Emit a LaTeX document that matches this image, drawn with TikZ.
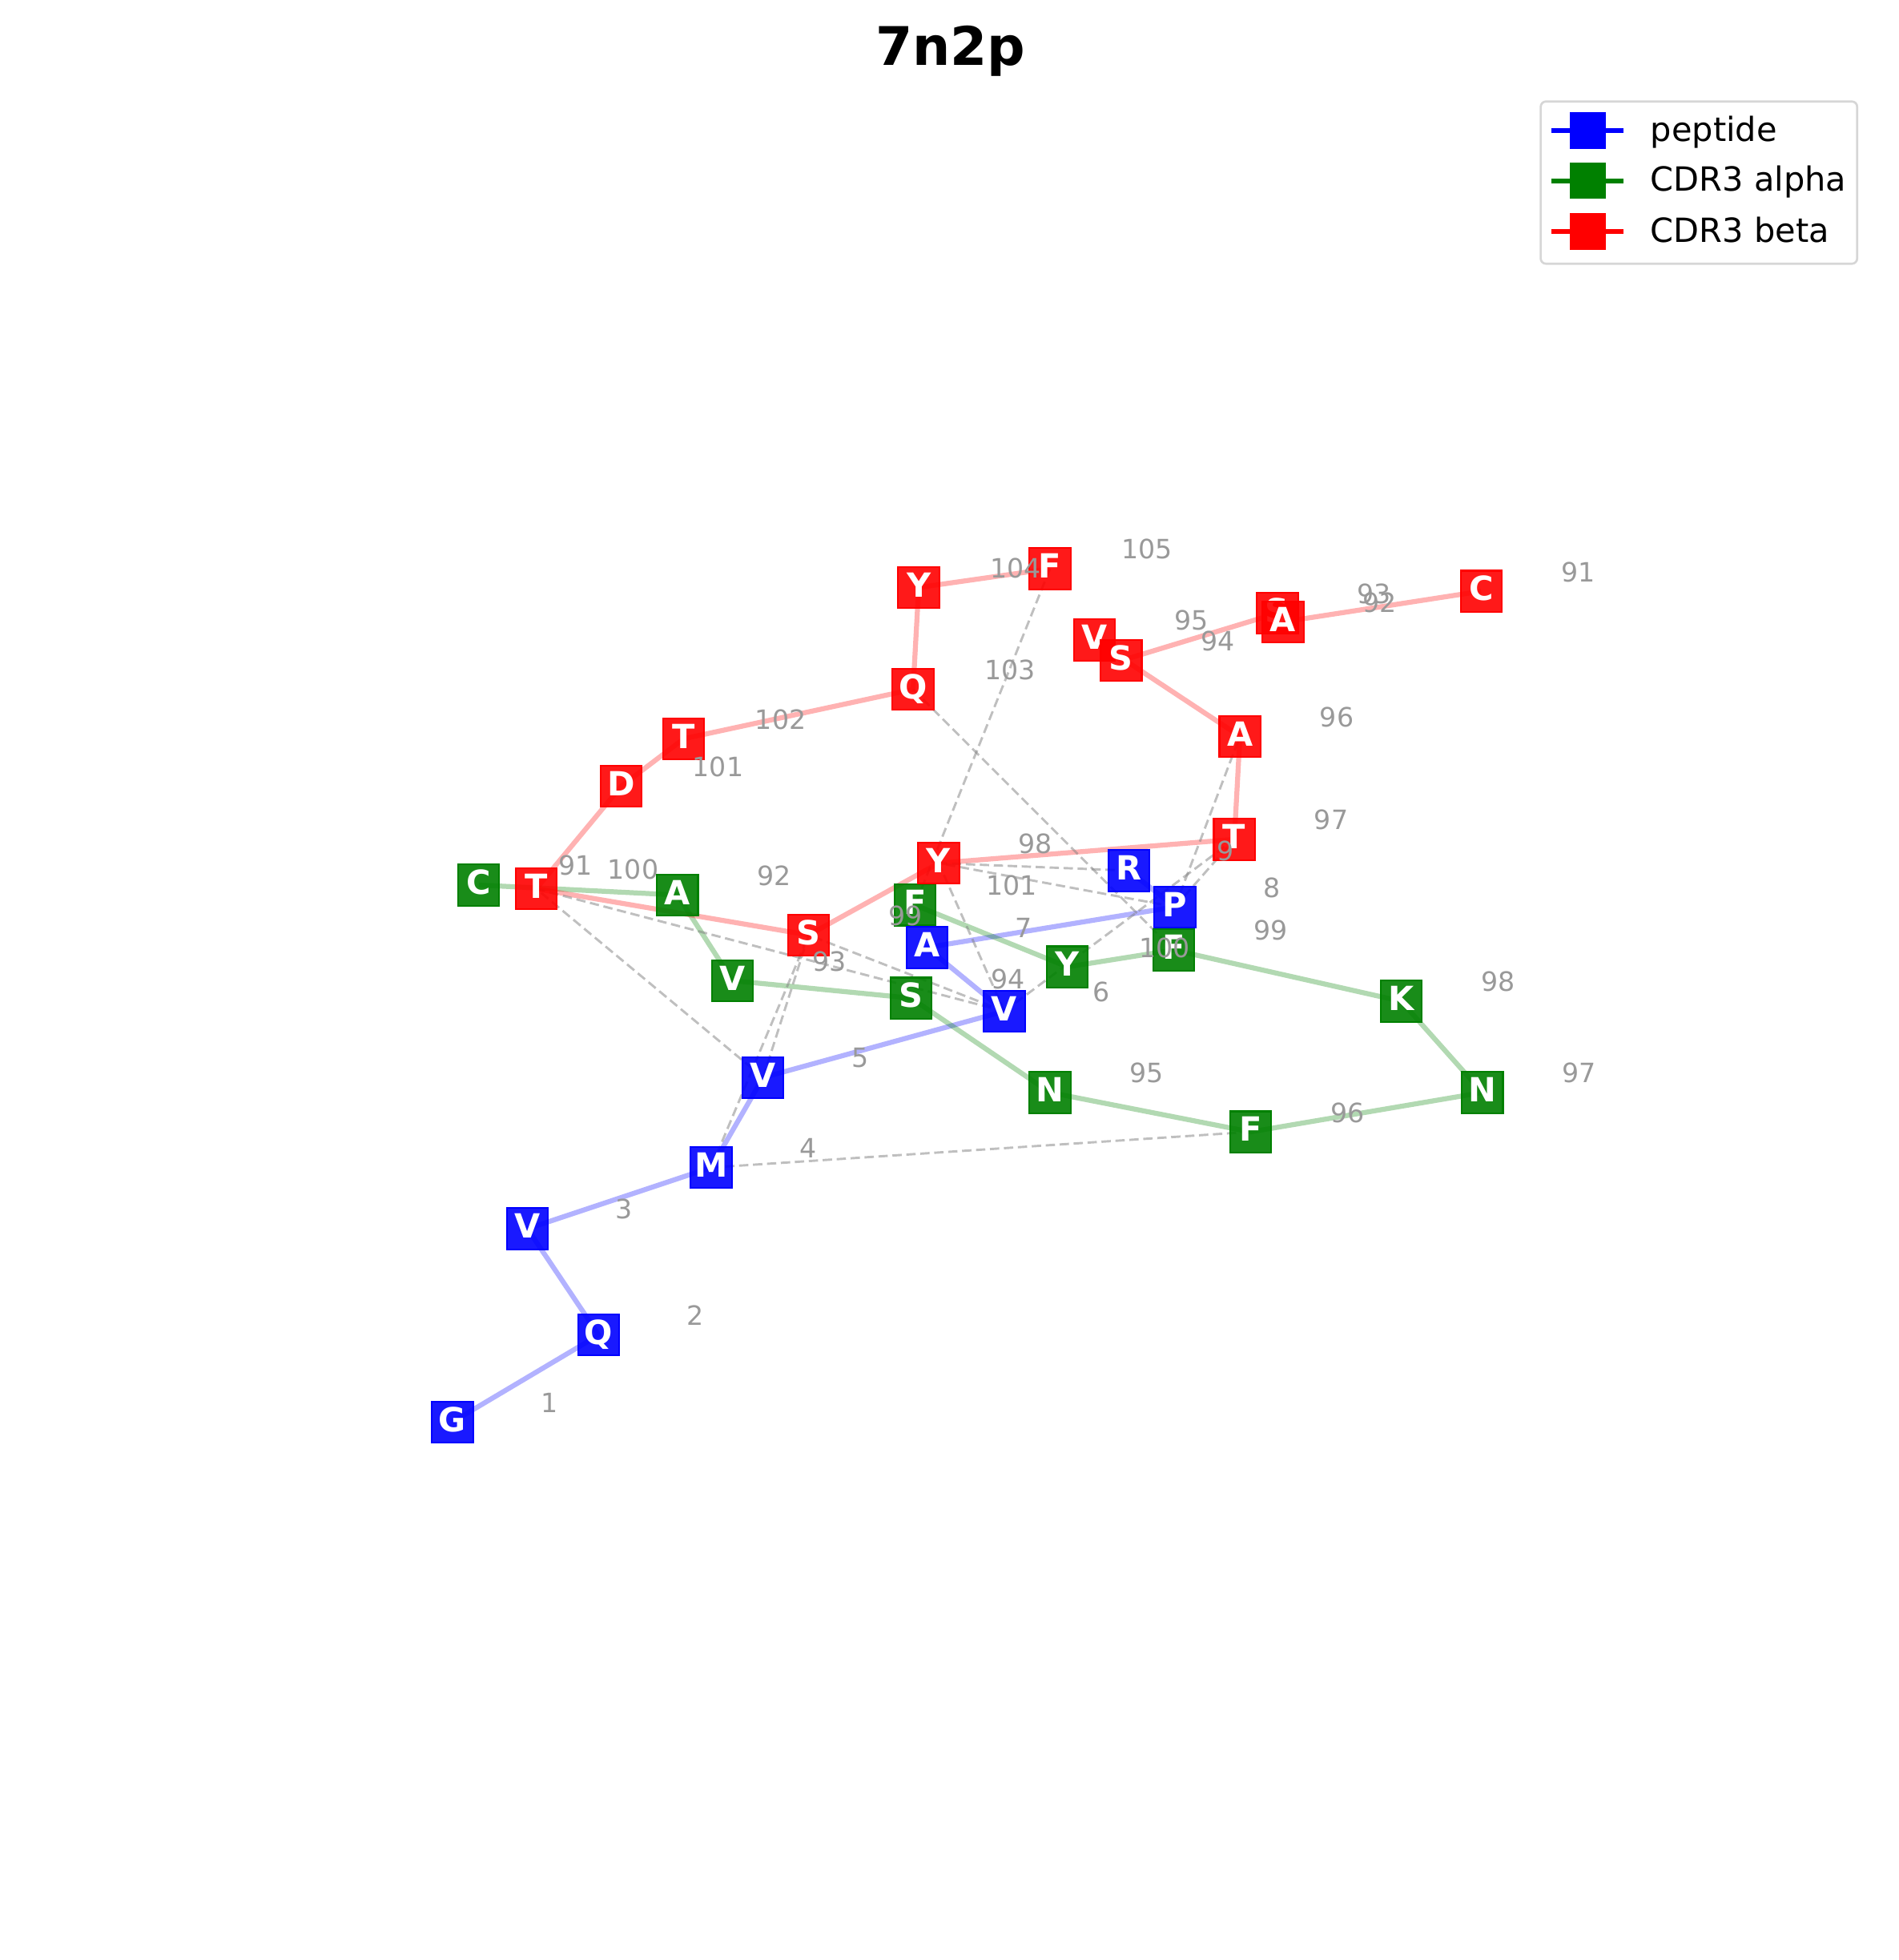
\documentclass[tikz,border=0pt]{standalone}
\usepackage{fontspec}
\setmainfont{DejaVu Sans}
\usepackage{xcolor}
\definecolor{pepblue}{HTML}{0000FF}
\definecolor{cdragreen}{HTML}{008000}
\definecolor{cdrbred}{HTML}{FF0000}
\definecolor{numgray}{HTML}{999999}
\definecolor{contactgray}{HTML}{808080}
\definecolor{framegray}{HTML}{D6D6D6}
\pgfdeclarelayer{background}
\pgfsetlayers{background,main}

\begin{document}
\begin{tikzpicture}[x=0.1321mm, y=-0.1321mm,
  res/.style={rectangle, minimum size=12.35pt, inner sep=0pt, line width=0.5pt,
              fill opacity=0.9, text opacity=1, text=white,
              text height=7.3pt, text depth=1.6pt,
              font=\fontsize{10}{12}\selectfont\bfseries},
  pep/.style={res, draw=pepblue, fill=pepblue},
  cdra/.style={res, draw=cdragreen, fill=cdragreen},
  cdrb/.style={res, draw=cdrbred, fill=cdrbred},
  num/.style={font=\fontsize{8}{10}\selectfont, text=numgray, inner sep=0pt},
  chain/.style={line width=1.5pt, draw opacity=0.3, line join=round},
  contact/.style={draw=contactgray, draw opacity=0.5, line width=0.7pt,
                  dash pattern=on 2.8pt off 1.4pt},
  legmark/.style={rectangle, minimum size=11pt, inner sep=0pt},
  legtext/.style={anchor=base west, inner sep=0pt, font=\fontsize{10}{12}\selectfont}
]
  \useasboundingbox (0,0) rectangle (1519,1568);

  % Title
  \node[font=\fontsize{16}{19}\selectfont\bfseries, anchor=base] (title) at (760.5,52.3) {7n2p};

  % CDR3 alpha
  \node[cdra] (a91) at (383,708) {C};
  \node[cdra] (a92) at (542,716) {A};
  \node[cdra] (a93) at (586,784.5) {V};
  \node[cdra] (a94) at (729,798.5) {S};
  \node[cdra] (a95) at (840,874) {N};
  \node[cdra] (a96) at (1000.5,905.5) {F};
  \node[cdra] (a97) at (1186,874) {N};
  \node[cdra] (a98) at (1121,801) {K};
  \node[cdra] (a99) at (939,760) {F};
  \node[cdra] (a100) at (854,773.5) {Y};
  \node[cdra] (a101) at (732,724) {F};

  % CDR3 beta, from the C-terminal end
  \node[cdrb] (b105) at (840,455) {F};
  \node[cdrb] (b104) at (735,470) {Y};
  \node[cdrb] (b103) at (730.5,551.5) {Q};
  \node[cdrb] (b102) at (547,591) {T};
  \node[cdrb] (b101) at (497,629) {D};
  \node[cdrb] (b100) at (429,711) {T};
  \node[cdrb] (b99) at (647,748) {S};
  \node[cdrb] (b98) at (751,690.5) {Y};
  \node[cdrb] (b97) at (987.5,671.5) {T};
  \node[cdrb] (b96) at (992,589) {A};
  \node[cdrb] (b95) at (875.5,512) {V};
  \node[cdrb] (b94) at (897,528.5) {S};
  \node[cdrb] (b93) at (1022,490.5) {S};
  \node[cdrb] (b92) at (1026.5,497.5) {A};
  \node[cdrb] (b91) at (1185,473) {C};

  % Peptide
  \node[pep] (p1) at (362,1137.5) {G};
  \node[pep] (p2) at (479,1068) {Q};
  \node[pep] (p3) at (422,983) {V};
  \node[pep] (p4) at (569,934) {M};
  \node[pep] (p5) at (610.5,862) {V};
  \node[pep] (p6) at (803.5,809) {V};
  \node[pep] (p7) at (741.5,758) {A};
  \node[pep] (p8) at (940,725.5) {P};
  \node[pep] (p9) at (903,696.5) {R};

  \begin{pgfonlayer}{background}
    % Backbones
    \draw[chain, pepblue] (p1.center) -- (p2.center) -- (p3.center) -- (p4.center)
      -- (p5.center) -- (p6.center) -- (p7.center) -- (p8.center) -- (p9.center);
    \draw[chain, cdragreen] (a91.center) -- (a92.center) -- (a93.center) -- (a94.center)
      -- (a95.center) -- (a96.center) -- (a97.center) -- (a98.center) -- (a99.center)
      -- (a100.center) -- (a101.center);
    \draw[chain, cdrbred] (b91.center) -- (b92.center) -- (b93.center) -- (b94.center)
      -- (b95.center) -- (b96.center) -- (b97.center) -- (b98.center) -- (b99.center)
      -- (b100.center) -- (b101.center) -- (b102.center) -- (b103.center)
      -- (b104.center) -- (b105.center);

    % Contacts
    \draw[contact] (p4.center) -- (a96.center);
    \draw[contact] (p4.center) -- (b99.center);
    \draw[contact] (p5.center) -- (b99.center);
    \draw[contact] (p5.center) -- (b100.center);
    \draw[contact] (p6.center) -- (b100.center);
    \draw[contact] (p6.center) -- (b99.center);
    \draw[contact] (p6.center) -- (b98.center);
    \draw[contact] (p6.center) -- (b97.center);
    \draw[contact] (p8.center) -- (b98.center);
    \draw[contact] (p8.center) -- (b96.center);
    \draw[contact] (p8.center) -- (b97.center);
    \draw[contact] (p9.center) -- (b98.center);
    \draw[contact] (b103.center) -- (a99.center);
    \draw[contact] (b105.center) -- (a101.center);
  \end{pgfonlayer}

  % Residue numbers
  \node[num] at ([shift={(77.5,-15.5)}]p1.center) {1};
  \node[num] at ([shift={(77.5,-15.5)}]p2.center) {2};
  \node[num] at ([shift={(77.5,-15.5)}]p3.center) {3};
  \node[num] at ([shift={(77.5,-15.5)}]p4.center) {4};
  \node[num] at ([shift={(77.5,-15.5)}]p5.center) {5};
  \node[num] at ([shift={(77.5,-15.5)}]p6.center) {6};
  \node[num] at ([shift={(77.5,-15.5)}]p7.center) {7};
  \node[num] at ([shift={(77.5,-15.5)}]p8.center) {8};
  \node[num] at ([shift={(77.5,-15.5)}]p9.center) {9};
  \node[num] at ([shift={(77.5,-15.5)}]a91.center) {91};
  \node[num] at ([shift={(77.5,-15.5)}]a92.center) {92};
  \node[num] at ([shift={(77.5,-15.5)}]a93.center) {93};
  \node[num] at ([shift={(77.5,-15.5)}]a94.center) {94};
  \node[num] at ([shift={(77.5,-15.5)}]a95.center) {95};
  \node[num] at ([shift={(77.5,-15.5)}]a96.center) {96};
  \node[num] at ([shift={(77.5,-15.5)}]a97.center) {97};
  \node[num] at ([shift={(77.5,-15.5)}]a98.center) {98};
  \node[num] at ([shift={(77.5,-15.5)}]a99.center) {99};
  \node[num] at ([shift={(77.5,-15.5)}]a100.center) {100};
  \node[num] at ([shift={(77.5,-15.5)}]a101.center) {101};
  \node[num] at ([shift={(77.5,-15.5)}]b91.center) {91};
  \node[num] at ([shift={(77.5,-15.5)}]b92.center) {92};
  \node[num] at ([shift={(77.5,-15.5)}]b93.center) {93};
  \node[num] at ([shift={(77.5,-15.5)}]b94.center) {94};
  \node[num] at ([shift={(77.5,-15.5)}]b95.center) {95};
  \node[num] at ([shift={(77.5,-15.5)}]b96.center) {96};
  \node[num] at ([shift={(77.5,-15.5)}]b97.center) {97};
  \node[num] at ([shift={(77.5,-15.5)}]b98.center) {98};
  \node[num] at ([shift={(77.5,-15.5)}]b99.center) {99};
  \node[num] at ([shift={(77.5,-15.5)}]b100.center) {100};
  \node[num] at ([shift={(77.5,-15.5)}]b101.center) {101};
  \node[num] at ([shift={(77.5,-15.5)}]b102.center) {102};
  \node[num] at ([shift={(77.5,-15.5)}]b103.center) {103};
  \node[num] at ([shift={(77.5,-15.5)}]b104.center) {104};
  \node[num] at ([shift={(77.5,-15.5)}]b105.center) {105};

  % Legend
  \draw[framegray, line width=0.65pt, rounded corners=1.6pt, fill=white]
    (1232.6,81.2) rectangle (1485.8,211);
  \draw[pepblue, line width=1.45pt] (1241,104.3) -- (1299,104.3);
  \node[legmark, fill=pepblue] (legpep) at (1270.4,104.3) {};
  \node[legtext] at (1320,112.8) {peptide};
  \draw[cdragreen, line width=1.45pt] (1241,144.6) -- (1299,144.6);
  \node[legmark, fill=cdragreen] (legalpha) at (1270.4,144.6) {};
  \node[legtext] at (1320,153.1) {CDR3 alpha};
  \draw[cdrbred, line width=1.45pt] (1241,185.2) -- (1299,185.2);
  \node[legmark, fill=cdrbred] (legbeta) at (1270.4,185.2) {};
  \node[legtext] at (1320,193.7) {CDR3 beta};
\end{tikzpicture}
\end{document}
